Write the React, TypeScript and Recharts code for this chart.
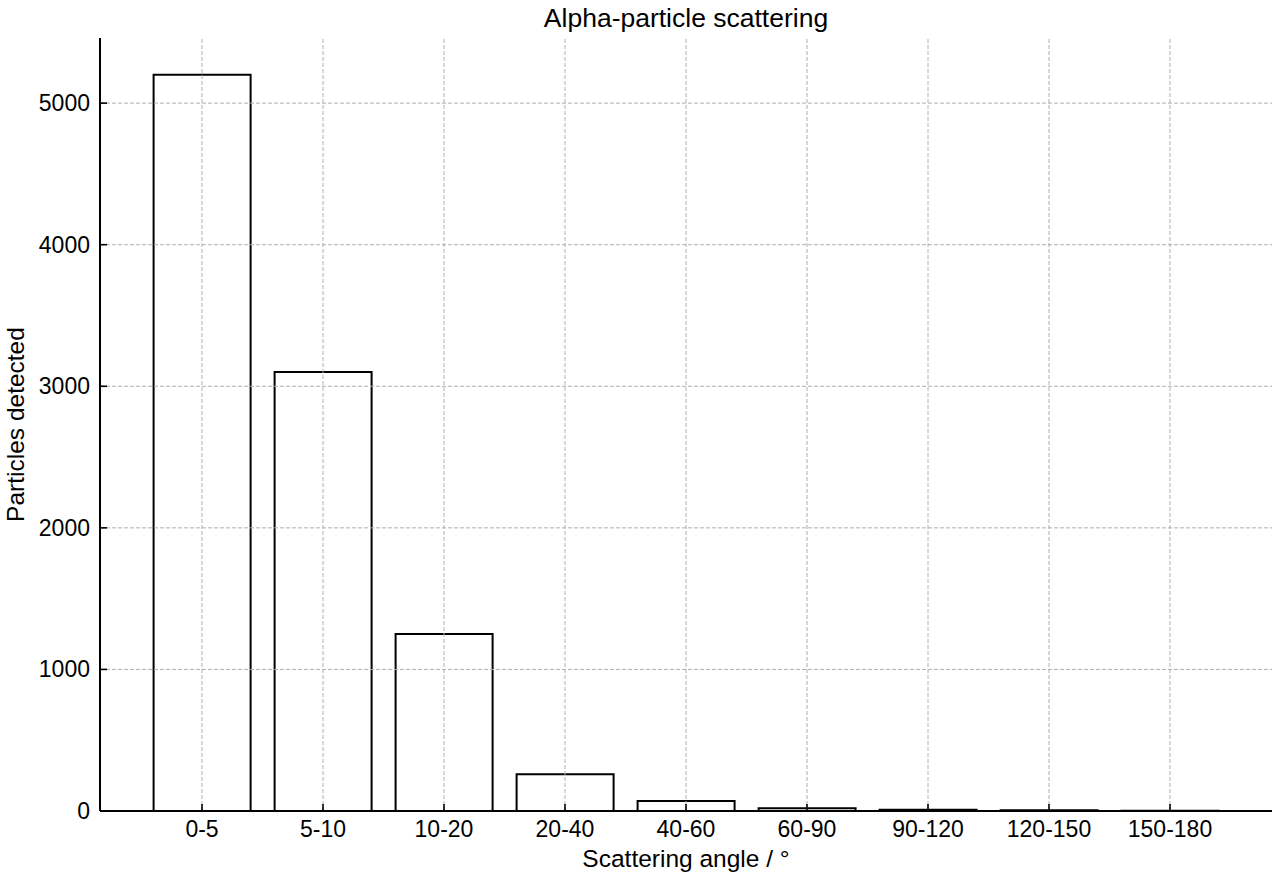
import { BarChart, Bar, XAxis, YAxis, ReferenceLine, Label } from "recharts";

const angleBins = ["0-5", "5-10", "10-20", "20-40", "40-60", "60-90", "90-120", "120-150", "150-180"];
const particleCounts = [5200, 3100, 1250, 260, 70, 20, 8, 5, 1];
const yTicks = [0, 1000, 2000, 3000, 4000, 5000];

const FONT = '"Liberation Sans", Arial, Helvetica, sans-serif';
const GRID = { stroke: "#b0b0b0", strokeWidth: 1, strokeDasharray: "4 2" };

const data = angleBins.map((bin, i) => ({ bin, count: particleCounts[i] }));

// ticks drawn inward like the original
function YTick(props: any) {
  const { x, y, payload } = props;
  return (
    <g>
      <line x1={x} x2={x + 7} y1={y} y2={y} stroke="#000" strokeWidth={1.6} />
      <text x={x - 10} y={y + 8} textAnchor="end" fontSize={23} fontFamily={FONT} fill="#000">
        {payload.value}
      </text>
    </g>
  );
}

function XTick(props: any) {
  const { x, y, payload } = props;
  return (
    <g>
      <line x1={x} x2={x} y1={y} y2={y - 7} stroke="#000" strokeWidth={1.6} />
      <text x={x} y={y + 26} textAnchor="middle" fontSize={23} fontFamily={FONT} fill="#000">
        {payload.value}
      </text>
    </g>
  );
}

export default function App() {
  return (
    <div style={{ position: "relative", width: 1280, height: 880, background: "#fff" }}>
      <style>{"body{margin:0}"}</style>
      <svg width={1280} height={40} style={{ position: "absolute", left: 0, top: 0 }}>
        <text x={686} y={27} textAnchor="middle" fontSize={26.5} fontFamily={FONT} fill="#000">
          Alpha-particle scattering
        </text>
      </svg>
      <BarChart
        width={1280}
        height={880}
        data={data}
        margin={{ top: 38, right: 8, bottom: 0, left: 0 }}
        barCategoryGap="10%"
      >
        <XAxis
          dataKey="bin"
          height={69}
          padding={{ left: 41.5, right: 41.5 }}
          tickSize={0}
          tickMargin={0}
          tickLine={false}
          axisLine={{ stroke: "#000", strokeWidth: 2 }}
          tick={<XTick />}
          interval={0}
        >
          <Label
            content={(p: any) => {
              const vb = p.viewBox;
              return (
                <text x={vb.x + vb.width / 2} y={867} textAnchor="middle" fontSize={24.5} fontFamily={FONT} fill="#000">
                  Scattering angle / °
                </text>
              );
            }}
          />
        </XAxis>
        <YAxis
          width={100}
          domain={[0, 5460]}
          ticks={yTicks}
          tickSize={0}
          tickMargin={0}
          tickLine={false}
          axisLine={{ stroke: "#000", strokeWidth: 2 }}
          tick={<YTick />}
          interval={0}
        >
          <Label
            content={(p: any) => {
              const vb = p.viewBox;
              const cy = vb.y + vb.height / 2;
              return (
                <text
                  x={24}
                  y={cy}
                  transform={`rotate(-90, 24, ${cy})`}
                  textAnchor="middle"
                  fontSize={24.5}
                  fontFamily={FONT}
                  fill="#000"
                >
                  Particles detected
                </text>
              );
            }}
          />
        </YAxis>
        {/* dashed grid at the tick positions */}
        {yTicks.slice(1).map((t) => (
          <ReferenceLine key={"h" + t} y={t} {...GRID} />
        ))}
        {angleBins.map((b) => (
          <ReferenceLine key={"v" + b} x={b} {...GRID} />
        ))}
        <Bar dataKey="count" fill="none" stroke="#000" strokeWidth={2} isAnimationActive={false} />
      </BarChart>
    </div>
  );
}
